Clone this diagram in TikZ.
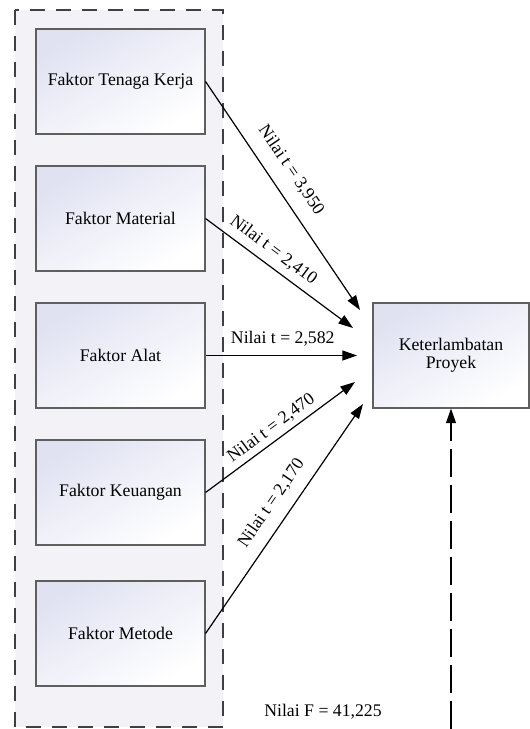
\documentclass[tikz,border=0pt]{standalone}
\usepackage{fontspec}
\setmainfont{Liberation Serif}
\usetikzlibrary{arrows.meta}
\definecolor{lav}{RGB}{224,226,242}
\definecolor{outerbg}{RGB}{243,243,247}
\definecolor{edge}{RGB}{95,95,95}
\begin{document}
\begin{tikzpicture}[x=0.75pt,y=-0.75pt,
  font=\fontsize{13.3}{16}\selectfont,
  fbox/.style={draw=edge, line width=0.8pt, top color=lav, bottom color=white, shading angle=30,
    minimum width=126.75pt, minimum height=78.75pt, inner sep=0pt, align=center},
  arr/.style={-{Triangle[length=11pt,width=7.5pt]}, line width=0.9pt},
  lbl/.style={sloped, inner sep=0pt}]
\useasboundingbox (0,0) rectangle (530,729);
\draw[fill=outerbg, draw=black!75, line width=1.1pt, dash pattern=on 11.25pt off 8.25pt] (15,10) rectangle (223,727);

\node[fbox] (b1) at (120.5,81.5) {Faktor Tenaga Kerja};
\node[fbox] (b2) at (120.5,218.5) {Faktor Material};
\node[fbox] (b3) at (120.5,355.5) {Faktor Alat};
\node[fbox] (b4) at (120.5,492.5) {Faktor Keuangan};
\node[fbox] (b5) at (120.5,633.5) {Faktor Metode};
\node[fbox, minimum width=117pt, font=\fontsize{13.3}{13.5}\selectfont] (ket) at (451,355.5) {Keterlambatan\\Proyek};

\coordinate (e1) at (360,310);
\coordinate (e2) at (353,328);
\coordinate (e3) at (357,355.5);
\coordinate (e4) at (355,382);
\coordinate (e5) at (363,404);

\draw[arr] (b1.east) -- node[lbl, pos=0.44, above=9.9pt] {Nilai t = 3,950} (e1);
\draw[arr] (b2.east) -- node[lbl, pos=0.40, above=5.25pt] {Nilai t = 2,410} (e2);
\draw[arr] (b3.east) -- node[lbl, pos=0.51, above=6.5pt] {Nilai t = 2,582} (e3);
\draw[arr] (b4.east) -- node[lbl, pos=0.49, above=3.5pt] {Nilai t = 2,470} (e4);
\draw[arr] (b5.east) -- node[lbl, pos=0.52, above=8.5pt] {Nilai t = 2,170} (e5);

\coordinate (fb) at (451,729);
\draw[arr, dash pattern=on 21pt off 6pt] (fb) -- (ket.south);
\node (f) at (323,712) {Nilai F = 41,225};
\end{tikzpicture}
\end{document}
